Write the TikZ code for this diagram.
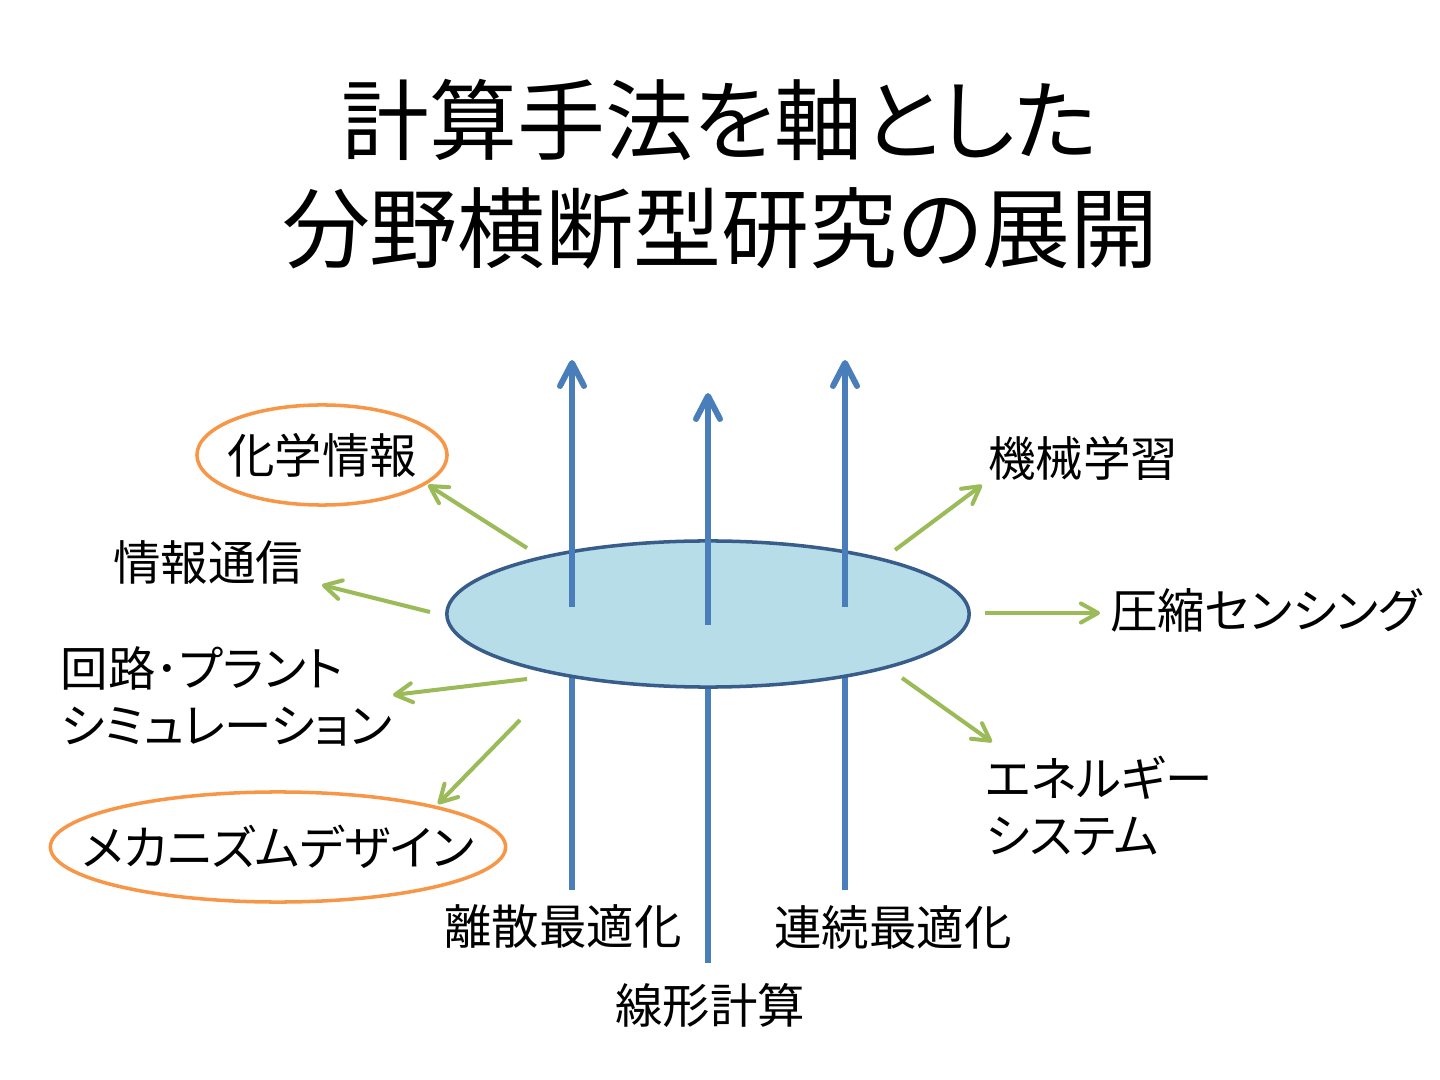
\documentclass[tikz,border=0pt]{standalone}
\usepackage{fontspec}
\setmainfont{Noto Sans CJK JP}[RawFeature=+palt]
\usetikzlibrary{arrows.meta,shapes.geometric,backgrounds}

\definecolor{axisblue}{RGB}{74,126,187}
\definecolor{hubfill}{RGB}{183,221,232}
\definecolor{hubedge}{RGB}{56,93,138}
\definecolor{spokegreen}{RGB}{155,187,89}
\definecolor{fieldorange}{RGB}{247,150,70}

\begin{document}
\begin{tikzpicture}[
  x=0.01cm,y=-0.01cm,
  every node/.style={font=\fontsize{13.5}{16.2}\selectfont,inner sep=0pt},
  hub/.style={ellipse,draw=hubedge,fill=hubfill,line width=1pt,minimum width=5.22cm,minimum height=1.46cm},
  field/.style={ellipse,draw=fieldorange,line width=1pt,inner xsep=-1cm,inner ysep=-0.2cm},
  axis/.style={draw=axisblue,line width=1.7pt},
  axisarrow/.style={axis,-{Straight Barb[length=2.3mm,width=2.4mm,round]}},
  spoke/.style={draw=spokegreen,line width=1.15pt,-{Straight Barb[length=1.7mm,width=1.9mm,round]}}
]
  \useasboundingbox (0,0) rectangle (1440,1080);

  % title
  \node[font=\fontsize{25}{30.7}\selectfont,align=center] (title) at (720,174)
    {計算手法を軸とした\\分野横断型研究の展開};

  % central disc
  \node[hub] (hub) at (708,614) {};

  % methods (axes through the disc)
  \coordinate (discrete-foot) at (572,890);
  \coordinate (linear-foot) at (708,963);
  \coordinate (continuous-foot) at (845,890);
  \coordinate (discrete-start) at (572,607);
  \coordinate (linear-start) at (708,625);
  \coordinate (continuous-start) at (845,607);
  \coordinate (discrete-tip) at (572,360);
  \coordinate (linear-tip) at (708,393);
  \coordinate (continuous-tip) at (845,360);
  \begin{scope}[on background layer]
    \draw[axis] (discrete-foot) -- (discrete-foot |- hub);
    \draw[axis] (linear-foot) -- (linear-foot |- hub);
    \draw[axis] (continuous-foot) -- (continuous-foot |- hub);
  \end{scope}
  \draw[axisarrow] (discrete-start) -- (discrete-tip);
  \draw[axisarrow] (linear-start) -- (linear-tip);
  \draw[axisarrow] (continuous-start) -- (continuous-tip);

  \node (discrete) at (563,927) {離散最適化};
  \node (continuous) at (893,927) {連続最適化};
  \node (linear) at (710,1005) {線形計算};

  % application fields
  \node[field,minimum width=2.5cm,minimum height=1cm] (chem) at (322,455) {化学情報};
  \node (comm) at (208,563) {情報通信};
  \node[align=left,anchor=west] (circuit) at (60,696) {回路･プラント\\シミュレーション};
  \node[field,minimum width=4.55cm,minimum height=1.1cm] (mech) at (278,847) {メカニズムデザイン};
  \node (ml) at (1083,458) {機械学習};
  \node (cs) at (1266,610) {圧縮センシング};
  \node[align=left,anchor=west] (energy) at (985,806) {エネルギー\\システム};

  \coordinate (chem-from) at (527,548);
  \coordinate (chem-to) at (428,485);
  \coordinate (comm-from) at (430,612);
  \coordinate (comm-to) at (322,585);
  \coordinate (circuit-from) at (527,679);
  \coordinate (circuit-to) at (393,695);
  \coordinate (mech-from) at (520,720);
  \coordinate (mech-to) at (438,804);
  \coordinate (ml-from) at (895,550);
  \coordinate (ml-to) at (982,485);
  \coordinate (cs-from) at (985,613);
  \coordinate (cs-to) at (1100,613);
  \coordinate (energy-from) at (902,678);
  \coordinate (energy-to) at (992,742);

  \draw[spoke] (chem-from) -- (chem-to);
  \draw[spoke] (comm-from) -- (comm-to);
  \draw[spoke] (circuit-from) -- (circuit-to);
  \draw[spoke] (mech-from) -- (mech-to);
  \draw[spoke] (ml-from) -- (ml-to);
  \draw[spoke] (cs-from) -- (cs-to);
  \draw[spoke] (energy-from) -- (energy-to);
\end{tikzpicture}
\end{document}
